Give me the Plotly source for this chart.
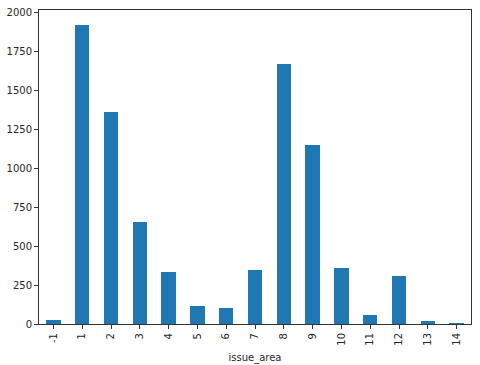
import plotly.graph_objects as go

categories = ["-1", "1", "2", "3", "4", "5", "6", "7", "8", "9", "10", "11", "12", "13", "14"]
counts = [26, 1921, 1360, 655, 332, 116, 103, 344, 1668, 1148, 362, 58, 308, 19, 1]
y_ticks = [0, 250, 500, 750, 1000, 1250, 1500, 1750, 2000]

fig = go.Figure(go.Bar(
    x=categories, y=counts, width=0.5,
    marker=dict(color="#1f77b4", line=dict(width=0)),
))

axis_common = dict(
    showline=True, linecolor="#333333", linewidth=1, mirror=True,
    ticks="outside", ticklen=4, tickcolor="#333333", tickwidth=1,
    showgrid=False, zeroline=False, automargin=False,
    tickfont=dict(family="DejaVu Sans", size=10, color="#262626"),
)

fig.update_layout(
    width=480, height=365,
    margin=dict(l=39, r=9, t=10, b=41),
    paper_bgcolor="white", plot_bgcolor="white",
    showlegend=False,
    bargap=0,
    font=dict(family="DejaVu Sans", size=10, color="#262626"),
    xaxis=dict(
        type="category", range=[-0.5, len(categories) - 0.5],
        tickangle=-90,
        title=dict(text="issue_area", standoff=9, font=dict(size=10)),
        **axis_common,
    ),
    yaxis=dict(
        range=[0, 1921 * 1.05],
        tickvals=y_ticks,
        **axis_common,
    ),
)

fig.write_html("out.html", config={"displayModeBar": False},
               post_script="document.body.style.margin='0';")
